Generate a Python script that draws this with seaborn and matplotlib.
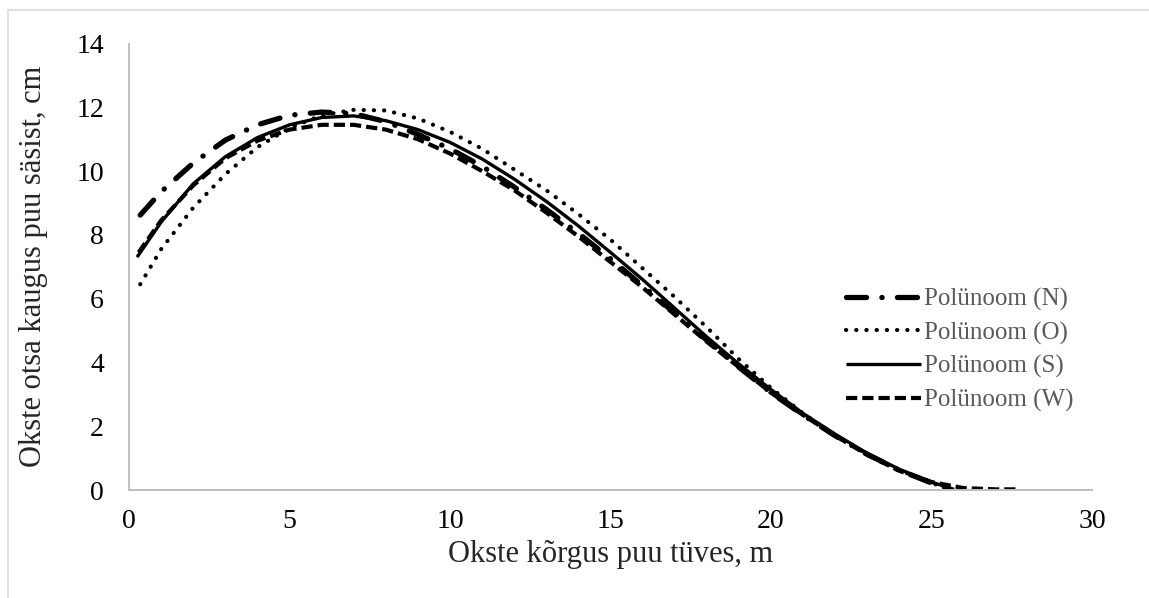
import matplotlib
matplotlib.use("Agg")
import matplotlib.pyplot as plt
import seaborn as sns
import pandas as pd
from matplotlib.patches import Rectangle

# values (height on stem, m -> distance, cm)
x_n = [0.35, 1, 2, 3, 4, 5, 6, 7, 8, 9, 10, 11, 12, 13, 14, 15, 16, 17, 18, 19, 20, 21, 22, 23, 24, 25, 25.6]
y_n = [8.62, 9.35, 10.25, 10.97, 11.45, 11.75, 11.85, 11.8, 11.55, 11.15, 10.7, 10.15, 9.5, 8.8, 8.05,
       7.25, 6.4, 5.55, 4.7, 3.85, 3.05, 2.35, 1.7, 1.12, 0.62, 0.22, 0.03]

x_o = [0.35, 1, 2, 3, 4, 5, 6, 7, 8, 9, 10, 11, 12, 13, 14, 15, 16, 17, 18, 19, 20, 21, 22, 23, 24, 25, 25.6]
y_o = [6.45, 7.55, 8.85, 9.9, 10.75, 11.35, 11.75, 11.92, 11.9, 11.65, 11.23, 10.7, 10.05, 9.4, 8.65,
       7.85, 6.95, 6.05, 5.1, 4.1, 3.2, 2.4, 1.72, 1.12, 0.62, 0.22, 0.02]

x_s = [0.25, 1, 2, 3, 4, 5, 6, 7, 8, 9, 10, 11, 12, 13, 14, 15, 16, 17, 18, 19, 20, 21, 22, 23, 24, 25, 25.7]
y_s = [7.3, 8.4, 9.6, 10.45, 11.05, 11.45, 11.68, 11.73, 11.58, 11.3, 10.9, 10.38, 9.75, 9.05, 8.28,
       7.45, 6.6, 5.7, 4.8, 3.95, 3.15, 2.4, 1.75, 1.15, 0.65, 0.25, 0.02]

x_w = [0.3, 1, 2, 3, 4, 5, 6, 7, 8, 9, 10, 11, 12, 13, 14, 15, 16, 17, 18, 19, 20, 21, 22, 23, 24, 25, 26, 27, 27.7]
y_w = [7.45, 8.45, 9.55, 10.4, 10.95, 11.3, 11.45, 11.45, 11.3, 11.0, 10.55, 10.0, 9.4, 8.7, 7.95,
       7.15, 6.35, 5.5, 4.65, 3.85, 3.05, 2.35, 1.7, 1.1, 0.6, 0.25, 0.06, 0.02, 0.02]

labels = ["Polünoom (N)", "Polünoom (O)", "Polünoom (S)", "Polünoom (W)"]

frames = []
for lab, xs, ys in zip(labels, [x_n, x_o, x_s, x_w], [y_n, y_o, y_s, y_w]):
    frames.append(pd.DataFrame({"x": xs, "y": ys, "seeria": lab}))
df = pd.concat(frames, ignore_index=True)

sns.set_theme(style="white")
plt.rcParams["font.family"] = ["Liberation Serif", "DejaVu Serif"]

fig = plt.figure(figsize=(11.49, 5.98), dpi=100)
ax = fig.add_axes([129 / 1149, 1 - 490 / 598, (1092 - 129) / 1149, (490 - 43.5) / 598])

styles = {
    "Polünoom (N)": dict(lw=3.8, dashes=(3.8, 2.9, 0.05, 2.9), capstyle="round"),
    "Polünoom (O)": dict(lw=3.0, dashes=(0.05, 2.4), capstyle="round"),
    "Polünoom (S)": dict(lw=2.4, dashes=None, capstyle="butt"),
    "Polünoom (W)": dict(lw=3.0, dashes=(2.7, 1.2), capstyle="butt"),
}

for lab in labels:
    st = styles[lab]
    sub = df[df["seeria"] == lab]
    sns.lineplot(data=sub, x="x", y="y", ax=ax, color="black", lw=st["lw"],
                 label=lab, sort=False, estimator=None)
    line = ax.lines[-1]
    if st["dashes"] is not None:
        line.set_dashes(st["dashes"])
    line.set_dash_capstyle(st["capstyle"])
    line.set_solid_capstyle("butt")

ax.set_xlim(0, 30)
ax.set_ylim(0, 14)
ax.set_xticks(range(0, 31, 5))
ax.set_yticks(range(0, 15, 2))
ax.tick_params(axis="x", labelsize=20, length=0, pad=14, colors="black")
ax.tick_params(axis="y", labelsize=20, length=0, pad=18, colors="black")
ax.set_xlabel("Okste kõrgus puu tüves, m", fontsize=22, labelpad=4)
ax.set_ylabel("Okste otsa kaugus puu säsist, cm", fontsize=22, labelpad=20)

for side in ["top", "right"]:
    ax.spines[side].set_visible(False)
for side in ["left", "bottom"]:
    ax.spines[side].set_color("#bfbfbf")
    ax.spines[side].set_linewidth(1.4)

leg = ax.legend(loc="upper left", bbox_to_anchor=(0.734, 0.475), frameon=False,
                fontsize=18, handlelength=3.0, handletextpad=0.12, labelspacing=0.42,
                borderaxespad=0)
for t in leg.get_texts():
    t.set_color("#595959")

# light frame of the chart area
fig.patches.append(Rectangle((8 / 1149, -0.01), 1.02, 1 - 10 / 598 + 0.01,
                             transform=fig.transFigure, fill=False,
                             edgecolor="#d9d9d9", lw=1.2, zorder=-1))

fig.savefig("out.png", dpi=100)
